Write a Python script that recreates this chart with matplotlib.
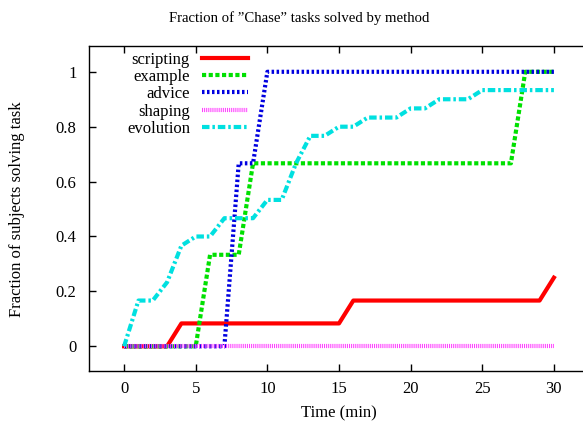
import matplotlib
matplotlib.use("Agg")
import matplotlib.pyplot as plt

plt.rcParams['font.family'] = ['Liberation Serif', 'DejaVu Serif']

minutes = list(range(0, 31))
scripting = [0, 0, 0, 0] + [1/12] * 12 + [2/12] * 14 + [3/12]
example = [0] * 6 + [1/3] * 3 + [2/3] * 19 + [1.0] * 3
advice = [0] * 8 + [2/3] * 2 + [1.0] * 21
shaping = [0] * 31
evolution = [0, 5/30, 5/30, 7/30, 11/30, 12/30, 12/30, 14/30, 14/30, 14/30,
             16/30, 16/30, 20/30, 23/30, 23/30, 24/30, 24/30, 25/30, 25/30, 25/30,
             26/30, 26/30, 27/30, 27/30, 27/30, 28/30, 28/30, 28/30, 28/30, 28/30, 28/30]

title = 'Fraction of \u201dChase\u201d tasks solved by method'
xlabel = 'Time (min)'
ylabel = 'Fraction of subjects solving task'
xticks = [0, 5, 10, 15, 20, 25, 30]
yticks = [0, 0.2, 0.4, 0.6, 0.8, 1]
ytick_labels = ['0', '0.2', '0.4', '0.6', '0.8', '1']

W, H = 583, 422
fig = plt.figure(figsize=(W / 100, H / 100), dpi=100)
ax = fig.add_axes([89 / W, 1 - 371 / H, 500 / W, 325 / H])

fs = 12
ax.plot(minutes, scripting, color='#ff0000', lw=3.0, ls='-', label='scripting')
ax.plot(minutes, example, color='#00e000', lw=3.0, ls=(0, (1.0, 0.6)), label='example')
ax.plot(minutes, advice, color='#0000e0', lw=3.0, ls=(0, (0.6, 0.6)), label='advice')
ax.plot(minutes, shaping, color='#ff40ff', lw=3.0, ls=(0, (0.25, 0.25)), label='shaping')
ax.plot(minutes, evolution, color='#00e0e0', lw=3.0, ls=(0, (1.8, 0.7, 0.6, 0.7)), label='evolution')

ax.set_xlim(-2.45, 32.45)
ax.set_ylim(-0.09, 1.094)
ax.set_xticks(xticks)
ax.set_xticklabels([str(t) for t in xticks], fontsize=fs)
ax.set_yticks(yticks)
ax.set_yticklabels(ytick_labels, fontsize=fs)
ax.tick_params(direction='in', top=True, right=False, length=5, width=1, pad=7)
ax.tick_params(axis='y', pad=9)
for s in ax.spines.values():
    s.set_linewidth(1.0)

ax.set_xlabel(xlabel, fontsize=fs, labelpad=6)
fig.text(17 / W, 1 - 209 / H, ylabel, rotation=90, ha='center', va='center', fontsize=fs)
fig.text(299 / W, 1 - 18 / H, title, ha='center', va='center', fontsize=10.6)

leg = ax.legend(loc='upper left', bbox_to_anchor=((127 - 89) / 500, 1 - 6 / 325),
                frameon=False, markerfirst=False, fontsize=fs, borderpad=0,
                borderaxespad=0, handlelength=2.75, handletextpad=0.7, labelspacing=0.07)

fig.savefig('out.png', dpi=100)
